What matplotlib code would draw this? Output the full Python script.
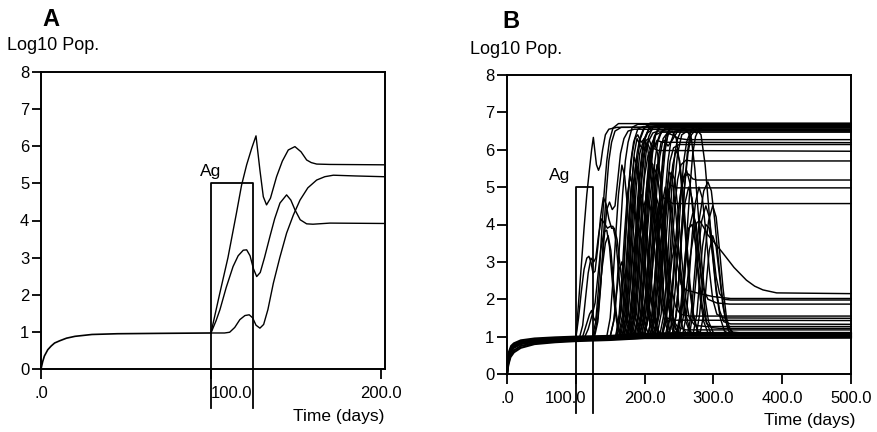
import matplotlib
matplotlib.use("Agg")
import matplotlib.pyplot as plt
from matplotlib.transforms import ScaledTranslation

plt.rcParams['font.family'] = ['Liberation Sans', 'DejaVu Sans']

# ---------------- common ----------------
y_ticks = [0, 1, 2, 3, 4, 5, 6, 7, 8]
ag_start, ag_end, ag_level = 100, 125, 5
a_xticks = [0, 100, 200]
a_xlabels = ['.0', '100.0', '200.0']
b_xticks = [0, 100, 200, 300, 400, 500]
b_xlabels = ['.0', '100.0', '200.0', '300.0', '400.0', '500.0']

# ---------------- panel A ----------------
a_base = [(0, 0), (1, 0.2), (2, 0.35), (4, 0.52), (6, 0.62), (8, 0.7), (11, 0.76), (15, 0.83),
          (20, 0.88), (30, 0.93), (45, 0.95), (70, 0.96), (100, 0.97)]
a_curve1 = [(100, 0.97), (105, 2.0), (110, 3.0), (115, 4.2), (118, 4.95), (121, 5.5), (124, 5.95),
            (126.5, 6.28), (128.8, 5.36), (130.8, 4.64), (132.7, 4.42), (135, 4.6), (138.6, 5.18),
            (142, 5.6), (145.5, 5.9), (149.4, 5.99), (153, 5.85), (156.3, 5.63), (159, 5.56),
            (162.2, 5.52), (170, 5.51), (201.5, 5.5)]
a_curve2 = [(100, 0.97), (103, 1.3), (105.3, 1.6), (109, 2.2), (113, 2.76), (116, 3.05), (119, 3.2),
            (121, 3.21), (123, 3.05), (125, 2.7), (126.9, 2.49), (129, 2.6), (131.5, 3.0),
            (134.7, 3.57), (137.5, 4.05), (140.6, 4.47), (144.5, 4.69), (147, 4.55), (149.4, 4.29),
            (152.5, 4.02), (156.3, 3.91), (160, 3.9), (170, 3.93), (201.5, 3.92)]
a_curve3 = [(100, 0.97), (108, 0.97), (111, 0.99), (114, 1.12), (117, 1.33), (120, 1.44),
            (122.5, 1.46), (124.5, 1.38), (126.5, 1.18), (128.8, 1.1), (131, 1.2), (133.5, 1.6),
            (136.7, 2.31), (140.5, 3.0), (144.5, 3.66), (148.5, 4.15), (152.4, 4.55), (157, 4.88),
            (162.2, 5.09), (167, 5.18), (172, 5.22), (185, 5.2), (201.5, 5.18)]

# ---------------- panel B ----------------
b_base = [
    [(0, 0), (1, 0.35), (3, 0.6), (6, 0.75), (10, 0.82), (20, 0.9), (40, 0.95), (70, 0.98),
     (100, 1.0), (150, 1.02), (200, 1.08), (260, 1.1), (500, 1.1)],
    [(0, 0), (1, 0.3), (3, 0.55), (6, 0.7), (10, 0.78), (20, 0.86), (40, 0.92), (70, 0.95),
     (100, 0.97), (150, 0.99), (200, 1.05), (260, 1.08), (500, 1.08)],
    [(0, 0), (1, 0.25), (3, 0.5), (6, 0.66), (10, 0.74), (20, 0.83), (40, 0.89), (70, 0.92),
     (100, 0.94), (150, 0.96), (200, 1.02), (260, 1.05), (500, 1.05)],
    [(0, 0), (1, 0.2), (3, 0.45), (6, 0.6), (10, 0.7), (20, 0.8), (40, 0.86), (70, 0.9),
     (100, 0.92), (150, 0.95), (200, 1.0), (260, 1.02), (500, 1.02)],
    [(0, 0), (2, 0.3), (5, 0.5), (10, 0.63), (20, 0.75), (40, 0.83), (70, 0.87), (100, 0.9),
     (150, 0.93), (200, 0.97), (500, 0.99)],
    [(0, 0), (2, 0.25), (5, 0.45), (10, 0.58), (20, 0.7), (40, 0.8), (70, 0.85), (100, 0.88),
     (150, 0.91), (200, 0.96), (500, 0.97)],
]
b_early = [
    [(100, 0.95), (104, 1.9), (108, 2.9), (112, 3.9), (116, 4.8), (120, 5.5), (123, 6.0), (125.5, 6.33),
     (127.5, 6.0), (130, 5.6), (133, 5.45), (136, 5.6), (139, 6.0), (143, 6.4), (148, 6.55), (160, 6.6),
     (500, 6.6)],
    [(124, 0.98), (129, 1.4), (133, 2.3), (137, 3.6), (141, 4.8), (145, 5.7), (149, 6.25), (154, 6.58),
     (162, 6.7), (500, 6.7)],
    [(127, 0.98), (132, 1.4), (136, 2.3), (140, 3.6), (144, 4.8), (148, 5.7), (152, 6.2), (157, 6.5),
     (166, 6.6), (500, 6.62)],
    [(100, 0.95), (104, 1.5), (108, 2.2), (112, 2.8), (116, 3.1), (119, 3.15), (122, 3.0), (125, 2.7),
     (128, 2.75), (132, 3.4), (136, 4.2), (140, 4.72), (144, 4.55), (148, 4.15), (152, 3.9), (156, 3.9),
     (160, 3.6), (165, 2.8), (170, 2.0), (175, 1.4), (180, 1.1), (190, 1.02)],
    [(105, 0.95), (110, 1.3), (114, 2.0), (118, 2.7), (122, 3.1), (126, 3.0), (129, 3.1), (133, 3.7),
     (137, 4.15), (141, 4.05), (146, 3.9), (150, 3.95), (154, 3.95), (158, 3.6), (162, 2.8), (166, 1.9),
     (170, 1.3), (175, 1.05)],
    [(112, 0.95), (118, 1.2), (124, 1.6), (128, 1.9), (132, 2.6), (136, 3.3), (141, 3.8), (145, 3.85),
     (149, 3.4), (153, 2.5), (157, 1.7), (161, 1.2), (166, 1.0)],
    [(100, 0.95), (110, 1.0), (115, 1.3), (120, 1.6), (123, 1.7), (126, 1.5), (129, 1.4), (133, 1.9),
     (138, 2.8), (143, 3.5), (147, 3.7), (151, 3.3), (155, 2.4), (159, 1.6), (163, 1.15), (168, 1.0)],
    [(126, 1.0), (132, 1.5), (137, 2.6), (141, 3.6), (145, 4.4), (149, 4.6), (153, 4.4), (157, 4.5),
     (161, 5.2), (165, 5.9), (170, 6.3), (176, 6.5), (185, 6.55), (500, 6.5)],
]
b_top = [
    [(150, 1.0), (156, 1.5), (160, 2.4), (164, 3.6), (168, 4.8), (172, 5.7), (176, 6.2), (182, 6.6), (190, 6.68), (500, 6.68)],
    [(158, 1.0), (164, 1.5), (168, 2.4), (172, 3.6), (176, 4.8), (180, 5.7), (184, 6.2), (190, 6.55), (198, 6.62), (500, 6.62)],
    [(163, 1.0), (169, 1.5), (173, 2.5), (177, 3.8), (181, 5.0), (185, 5.9), (189, 6.3), (194, 6.1), (199, 6.0), (205, 6.2), (212, 6.45), (220, 6.5), (500, 6.5)],
    [(168, 1.0), (174, 1.6), (178, 2.6), (182, 3.9), (186, 5.0), (190, 5.8), (194, 6.3), (200, 6.6), (208, 6.71), (500, 6.71)],
    [(172, 1.02), (178, 1.5), (182, 2.3), (186, 3.5), (190, 4.7), (194, 5.6), (198, 6.15), (204, 6.45), (212, 6.55), (500, 6.55)],
    [(176, 1.02), (182, 1.6), (186, 2.6), (190, 3.9), (194, 5.0), (198, 5.8), (202, 6.25), (206, 6.3), (211, 6.05), (216, 6.1), (222, 6.4), (230, 6.58), (500, 6.6)],
    [(180, 1.02), (186, 1.6), (190, 2.5), (194, 3.8), (198, 5.0), (202, 5.9), (206, 6.35), (212, 6.6), (220, 6.65), (500, 6.65)],
    [(184, 1.02), (190, 1.5), (194, 2.4), (198, 3.6), (202, 4.8), (206, 5.7), (210, 6.15), (216, 6.4), (224, 6.47), (500, 6.47)],
    [(188, 1.03), (194, 1.6), (198, 2.6), (202, 3.9), (206, 5.1), (210, 5.9), (214, 6.35), (220, 6.58), (228, 6.62), (500, 6.62)],
    [(193, 1.03), (199, 1.5), (203, 2.4), (207, 3.6), (211, 4.8), (215, 5.7), (219, 6.2), (225, 6.5), (233, 6.55), (500, 6.55)],
    [(198, 1.03), (204, 1.6), (208, 2.6), (212, 3.9), (216, 5.0), (220, 5.8), (224, 6.2), (229, 6.25), (234, 6.1), (240, 6.25), (248, 6.5), (258, 6.6), (500, 6.6)],
    [(205, 1.03), (211, 1.6), (215, 2.5), (219, 3.8), (223, 5.0), (227, 5.9), (231, 6.35), (237, 6.6), (245, 6.68), (500, 6.68)],
    [(212, 1.03), (218, 1.5), (222, 2.4), (226, 3.6), (230, 4.8), (234, 5.7), (238, 6.2), (244, 6.5), (252, 6.52), (500, 6.52)],
    [(222, 1.03), (228, 1.6), (232, 2.6), (236, 3.9), (240, 5.1), (244, 5.9), (248, 6.3), (254, 6.55), (262, 6.6), (500, 6.6)],
    [(235, 1.03), (241, 1.5), (245, 2.4), (249, 3.6), (253, 4.8), (257, 5.7), (261, 6.2), (267, 6.5), (275, 6.55), (500, 6.55)],
    [(248, 1.03), (254, 1.6), (258, 2.6), (262, 3.9), (266, 5.0), (270, 5.9), (274, 6.35), (280, 6.6), (288, 6.65), (500, 6.65)],
    [(240, 1.03), (246, 1.6), (250, 2.6), (254, 3.9), (258, 5.0), (262, 5.9), (266, 6.4), (270, 6.6), (275, 6.45), (280, 6.5), (286, 6.68), (500, 6.68)],
    [(160, 1.0), (166, 1.7), (170, 2.8), (174, 4.1), (178, 5.2), (182, 5.9), (186, 6.3), (190, 6.4), (195, 6.2), (200, 6.3), (206, 6.55), (215, 6.62), (500, 6.62)],
    [(167, 1.0), (173, 1.6), (177, 2.7), (181, 4.0), (185, 5.2), (189, 5.9), (193, 6.3), (198, 6.55), (206, 6.66), (500, 6.66)],
    [(175, 1.02), (181, 1.7), (185, 2.8), (189, 4.1), (193, 5.2), (197, 5.9), (201, 6.35), (207, 6.6), (215, 6.64), (500, 6.64)],
    [(190, 1.03), (196, 1.7), (200, 2.8), (204, 4.1), (208, 5.2), (212, 6.0), (216, 6.4), (222, 6.6), (230, 6.69), (500, 6.69)],
    [(208, 1.03), (214, 1.7), (218, 2.8), (222, 4.1), (226, 5.2), (230, 6.0), (234, 6.45), (240, 6.62), (248, 6.66), (500, 6.66)],
]
b_mid = [
    [(200, 1.03), (206, 1.6), (210, 2.6), (214, 3.9), (218, 5.0), (222, 5.8), (227, 6.3), (233, 6.45), (240, 6.4), (250, 6.3), (262, 6.27), (500, 6.27)],
    [(185, 1.02), (191, 1.5), (195, 2.4), (199, 3.6), (203, 4.7), (207, 5.5), (212, 6.0), (218, 6.25), (226, 6.2), (500, 6.19)],
    [(215, 1.03), (221, 1.6), (225, 2.6), (229, 3.9), (233, 5.0), (237, 5.7), (242, 6.05), (250, 6.14), (500, 6.14)],
    [(178, 1.02), (184, 1.5), (188, 2.3), (192, 3.4), (196, 4.5), (200, 5.3), (205, 5.85), (211, 6.05), (220, 5.98), (500, 5.96)],
    [(226, 1.03), (232, 1.5), (236, 2.4), (240, 3.5), (244, 4.5), (248, 5.2), (253, 5.6), (260, 5.72), (268, 5.7), (500, 5.7)],
    [(230, 1.03), (236, 1.5), (240, 2.3), (244, 3.3), (248, 4.2), (253, 4.9), (258, 5.3), (264, 5.35), (270, 5.22), (276, 5.19), (500, 5.19)],
    [(208, 1.03), (214, 1.5), (218, 2.3), (222, 3.3), (227, 4.2), (232, 4.8), (238, 5.05), (247, 4.98), (500, 4.98)],
    [(195, 1.03), (201, 1.5), (205, 2.2), (210, 3.2), (215, 4.0), (220, 4.5), (226, 4.74), (233, 4.65), (241, 4.56), (500, 4.56)],
]
b_trans = [
    [(145, 1.0), (150, 1.5), (154, 2.5), (158, 3.7), (162, 4.8), (167, 5.59), (171, 5.3), (175, 4.5), (179, 3.3), (183, 2.2), (187, 1.5), (192, 1.15), (200, 1.05)],
    [(158, 1.0), (163, 1.6), (167, 2.6), (171, 3.8), (175, 4.8), (179, 5.28), (183, 5.0), (187, 4.2), (191, 3.1), (195, 2.1), (199, 1.4), (205, 1.1)],
    [(170, 1.02), (176, 1.6), (180, 2.6), (184, 3.9), (188, 5.0), (193, 5.9), (199, 6.3), (204, 6.1), (209, 5.4), (214, 4.3), (219, 3.1), (224, 2.0), (229, 1.4), (235, 1.1)],
    [(185, 1.02), (191, 1.6), (195, 2.6), (199, 3.9), (203, 5.0), (208, 5.8), (214, 6.2), (219, 5.9), (224, 5.0), (229, 3.8), (234, 2.6), (239, 1.7), (245, 1.2), (252, 1.05)],
    [(192, 1.03), (198, 1.5), (202, 2.3), (206, 3.2), (211, 4.2), (217, 4.74), (222, 4.4), (227, 3.5), (232, 2.4), (237, 1.6), (243, 1.15), (250, 1.05)],
    [(232, 1.03), (238, 1.6), (242, 2.5), (246, 3.6), (250, 4.5), (255, 5.2), (261, 5.45), (266, 5.1), (271, 4.2), (276, 3.0), (281, 2.0), (286, 1.4), (292, 1.1)],
    [(262, 1.03), (267, 1.5), (271, 2.3), (275, 3.2), (280, 4.2), (286, 4.9), (292, 5.14), (297, 4.9), (302, 4.1), (307, 3.1), (312, 2.2), (317, 1.5), (322, 1.15), (330, 1.05)],
    [(150, 1.0), (155, 1.4), (159, 2.1), (163, 2.8), (167, 3.0), (171, 2.6), (175, 1.9), (179, 1.3), (185, 1.05)],
    [(170, 1.02), (175, 1.5), (179, 2.3), (183, 3.2), (187, 3.8), (191, 4.0), (195, 3.6), (199, 2.8), (203, 1.9), (208, 1.3), (214, 1.05)],
    [(205, 1.03), (211, 1.6), (215, 2.5), (219, 3.5), (224, 4.4), (230, 5.0), (235, 4.7), (240, 3.8), (245, 2.7), (250, 1.8), (255, 1.25), (262, 1.05)],
    [(225, 1.03), (230, 1.5), (235, 2.3), (240, 3.1), (245, 3.5), (250, 3.2), (255, 2.4), (260, 1.6), (266, 1.15), (272, 1.05)],
    [(218, 1.03), (224, 1.6), (228, 2.6), (232, 3.8), (236, 4.8), (241, 5.6), (246, 6.0), (251, 5.7), (256, 4.8), (261, 3.6), (266, 2.4), (271, 1.6), (277, 1.15), (285, 1.05)],
    [(246, 1.03), (252, 1.5), (256, 2.2), (260, 3.0), (265, 3.9), (270, 4.3), (275, 4.0), (280, 3.1), (285, 2.1), (290, 1.4), (296, 1.1)],
    [(190, 1.02), (195, 1.4), (200, 1.9), (205, 2.2), (210, 1.9), (215, 1.4), (221, 1.1)],
    [(162, 1.0), (168, 1.6), (172, 2.6), (176, 3.8), (180, 4.9), (185, 5.8), (190, 5.5), (195, 4.5), (200, 3.2), (205, 2.1), (210, 1.4), (216, 1.1)],
    [(205, 1.03), (211, 1.6), (215, 2.6), (219, 3.9), (223, 5.0), (228, 5.9), (234, 6.4), (240, 6.5), (246, 6.3), (251, 5.6), (256, 4.5), (261, 3.3), (266, 2.2), (271, 1.5), (277, 1.15), (285, 1.05)],
    [(225, 1.03), (231, 1.6), (235, 2.6), (239, 3.9), (243, 5.0), (248, 5.9), (254, 6.4), (262, 6.5), (268, 6.3), (273, 5.5), (278, 4.3), (283, 3.0), (288, 2.0), (293, 1.4), (300, 1.1), (310, 1.05)],
    [(240, 1.03), (246, 1.6), (250, 2.6), (254, 3.9), (258, 5.0), (263, 5.9), (268, 6.4), (275, 6.55), (282, 6.4), (288, 5.6), (293, 4.5), (298, 3.3), (304, 2.2), (310, 1.5), (316, 1.15), (325, 1.05)],
    [(275, 1.03), (280, 1.6), (284, 2.4), (288, 3.3), (293, 4.1), (299, 4.5), (304, 4.2), (309, 3.3), (314, 2.3), (319, 1.5), (325, 1.15), (333, 1.05)],
    [(165, 1.0), (171, 1.6), (175, 2.6), (179, 3.9), (183, 5.0), (187, 5.6), (191, 5.4), (195, 4.6), (199, 3.4), (203, 2.3), (207, 1.5), (212, 1.1)],
    [(174, 1.02), (180, 1.6), (184, 2.6), (188, 3.8), (192, 4.6), (196, 4.8), (200, 4.3), (204, 3.3), (208, 2.3), (213, 1.5), (219, 1.1)],
    [(178, 1.02), (184, 1.7), (188, 2.8), (192, 4.1), (196, 5.2), (200, 5.9), (204, 6.2), (208, 6.0), (213, 5.2), (218, 4.0), (223, 2.8), (228, 1.8), (234, 1.2)],
    [(182, 1.02), (188, 1.6), (192, 2.6), (196, 3.6), (200, 4.0), (204, 3.7), (208, 2.9), (212, 2.0), (217, 1.3), (223, 1.05)],
    [(186, 1.02), (192, 1.7), (196, 2.8), (200, 4.1), (204, 5.1), (208, 5.7), (212, 5.6), (216, 4.9), (221, 3.7), (226, 2.5), (231, 1.6), (237, 1.15)],
    [(196, 1.03), (202, 1.7), (206, 2.8), (210, 4.0), (214, 5.0), (218, 5.6), (222, 5.4), (227, 4.5), (232, 3.3), (237, 2.2), (242, 1.4), (248, 1.1)],
    [(200, 1.03), (206, 1.6), (210, 2.5), (214, 3.4), (218, 4.0), (222, 4.1), (226, 3.6), (230, 2.7), (235, 1.8), (240, 1.2)],
    [(214, 1.03), (220, 1.6), (224, 2.6), (228, 3.8), (232, 4.8), (236, 5.4), (240, 5.3), (245, 4.4), (250, 3.2), (255, 2.1), (260, 1.4), (266, 1.1)],
]
b_low = [
    [(250, 1.03), (256, 1.5), (261, 2.3), (266, 3.1), (271, 3.7), (276, 4.05), (280, 4.1), (285, 3.95), (292, 3.72), (300, 3.55), (314, 3.23), (330, 2.85), (348, 2.51), (360, 2.35), (372, 2.25), (392, 2.17), (500, 2.15)],
    [(210, 1.03), (216, 1.6), (220, 2.5), (224, 3.5), (228, 4.4), (233, 4.9), (238, 4.6), (243, 3.7), (248, 2.9), (253, 2.4), (260, 2.25), (280, 2.15), (300, 2.07), (325, 2.02), (500, 2.02)],
    [(265, 1.03), (270, 1.6), (274, 2.4), (278, 3.3), (283, 4.1), (289, 4.5), (294, 4.2), (299, 3.4), (304, 2.6), (309, 2.15), (315, 2.0), (325, 1.98), (500, 1.98)],
    [(240, 1.03), (246, 1.6), (250, 2.6), (254, 3.7), (259, 4.6), (264, 5.0), (269, 4.7), (274, 3.9), (279, 3.0), (285, 2.3), (292, 2.0), (305, 1.9), (324, 1.87), (500, 1.87)],
    [(200, 1.03), (206, 1.6), (210, 2.5), (214, 3.5), (219, 4.2), (224, 4.4), (229, 4.0), (234, 3.1), (239, 2.3), (245, 1.8), (252, 1.6), (265, 1.55), (500, 1.55)],
    [(255, 1.03), (261, 1.6), (265, 2.6), (269, 3.7), (274, 4.6), (279, 5.0), (284, 4.7), (289, 3.8), (294, 2.8), (299, 2.0), (305, 1.6), (315, 1.5), (500, 1.49)],
    [(180, 1.02), (186, 1.6), (190, 2.6), (194, 3.7), (199, 4.5), (204, 4.8), (209, 4.4), (214, 3.4), (219, 2.4), (225, 1.8), (232, 1.5), (245, 1.44), (500, 1.43)],
    [(270, 1.03), (276, 1.6), (280, 2.5), (284, 3.4), (289, 4.0), (294, 3.9), (299, 3.2), (304, 2.3), (309, 1.7), (315, 1.4), (325, 1.34), (500, 1.33)],
    [(215, 1.03), (221, 1.6), (225, 2.6), (229, 3.8), (234, 4.8), (239, 5.4), (244, 5.2), (249, 4.3), (254, 3.1), (259, 2.1), (265, 1.5), (273, 1.3), (290, 1.27), (500, 1.27)],
    [(245, 1.03), (251, 1.5), (255, 2.3), (259, 3.2), (264, 3.9), (269, 4.0), (274, 3.5), (279, 2.6), (284, 1.8), (290, 1.35), (298, 1.24), (310, 1.22), (500, 1.22)],
    [(190, 1.02), (196, 1.6), (200, 2.6), (204, 3.8), (209, 4.9), (214, 5.5), (219, 5.3), (224, 4.4), (229, 3.2), (234, 2.2), (240, 1.5), (248, 1.25), (260, 1.18), (500, 1.18)],
    [(280, 1.03), (286, 1.6), (290, 2.5), (294, 3.3), (299, 3.7), (304, 3.4), (309, 2.6), (314, 1.8), (320, 1.3), (328, 1.12), (340, 1.1), (500, 1.1)],
]

# ---------------- drawing ----------------
W, H = 877, 432
fig = plt.figure(figsize=(W / 100, H / 100), dpi=100)
fig.patch.set_facecolor('white')


def px(x, y):
    return x / W, 1 - y / H


def style_axes(ax, xlim, xticks, xlabels, ytick_len):
    ax.set_xlim(*xlim)
    ax.set_ylim(0, 8)
    for s in ax.spines.values():
        s.set_linewidth(1.4)
        s.set_color('black')
    ax.set_yticks(y_ticks)
    ax.set_yticklabels([str(v) for v in y_ticks])
    ax.set_xticks(xticks)
    ax.set_xticklabels(xlabels)
    ax.tick_params(axis='y', direction='out', length=ytick_len, width=1.3, pad=2, labelsize=12)
    ax.tick_params(axis='x', direction='out', length=7, width=1.3, pad=5, labelsize=12)
    ax.tick_params(top=False, right=False)


def draw_curve(ax, pts, lw=1.0):
    t, v = zip(*pts)
    ax.plot(t, v, color='black', lw=lw, solid_joinstyle='round', clip_on=False)


def draw_ag(ax, label_x, label_ha):
    ax.plot([ag_start, ag_start, ag_end, ag_end], [-1.05, ag_level, ag_level, -1.05],
            color='black', lw=1.3, clip_on=False, zorder=5)
    ax.text(label_x, ag_level + 0.12, 'Ag', ha=label_ha, va='bottom', fontsize=12.5)


# Panel A
axA = fig.add_axes([41 / W, 1 - 369 / H, 344 / W, 297 / H])
style_axes(axA, (0, 202.4), a_xticks, a_xlabels, 6.5)
draw_curve(axA, a_base, 1.2)
for c in (a_curve1, a_curve2, a_curve3):
    draw_curve(axA, c, 1.0)
draw_ag(axA, 100, 'center')
lbl = axA.get_xticklabels()[1]
lbl.set_transform(lbl.get_transform() + ScaledTranslation(21 / 100, 0, fig.dpi_scale_trans))

# Panel B
axB = fig.add_axes([507 / W, 1 - 374 / H, 344 / W, 299 / H])
style_axes(axB, (0, 500), b_xticks, b_xlabels, 7)
for c in b_base:
    draw_curve(axB, c, 1.5)
for group in (b_early, b_top, b_mid, b_trans, b_low):
    for c in group:
        draw_curve(axB, c, 1.05)
draw_ag(axB, 92, 'right')
lbl = axB.get_xticklabels()[1]
lbl.set_transform(lbl.get_transform() + ScaledTranslation(-10 / 100, 0, fig.dpi_scale_trans))

# Titles and labels
fig.text(*px(51, 19), 'A', ha='center', va='center', fontsize=17, fontweight='bold')
fig.text(*px(511, 21), 'B', ha='center', va='center', fontsize=17, fontweight='bold')
fig.text(*px(7, 46), 'Log10 Pop.', ha='left', va='center', fontsize=13)
fig.text(*px(470, 50), 'Log10 Pop.', ha='left', va='center', fontsize=13)
fig.text(*px(384, 417), 'Time (days)', ha='right', va='center', fontsize=12.5)
fig.text(*px(855, 420), 'Time (days)', ha='right', va='center', fontsize=12.5)

fig.savefig('out.png', dpi=100, facecolor='white')
